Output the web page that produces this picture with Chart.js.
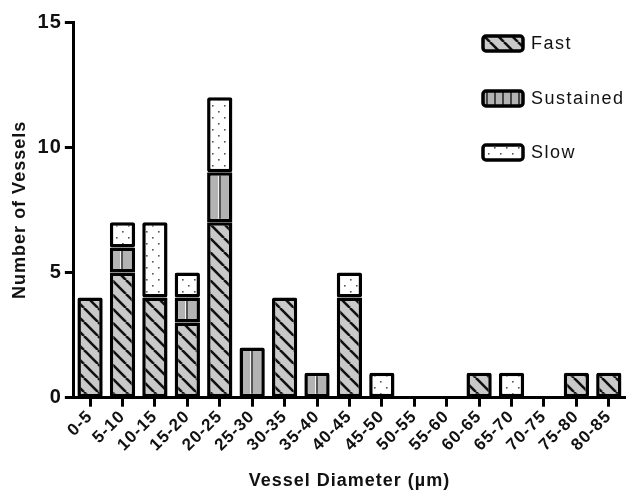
<!DOCTYPE html>
<html>
<head>
<meta charset="utf-8">
<script src="https://cdn.jsdelivr.net/npm/chart.js@4.4.0/dist/chart.umd.min.js"></script>
<style>
  html, body { margin: 0; padding: 0; background: #fff; }
  #wrap { width: 628px; height: 496px; }
</style>
</head>
<body>
<div id="wrap"><canvas id="chart" width="628" height="496"></canvas></div>
<script>
const categories = ["0-5", "5-10", "10-15", "15-20", "20-25", "25-30", "30-35", "35-40", "40-45",
  "45-50", "50-55", "55-60", "60-65", "65-70", "70-75", "75-80", "80-85"];
const fastValues      = [4, 5, 4, 3, 7, 0, 4, 0, 4, 0, 0, 0, 1, 0, 0, 1, 1];
const sustainedValues = [0, 1, 0, 1, 2, 2, 0, 1, 0, 0, 0, 0, 0, 0, 0, 0, 0];
const slowValues      = [0, 1, 3, 1, 3, 0, 0, 0, 1, 1, 0, 0, 0, 1, 0, 0, 0];
const seriesNames = ["Fast", "Sustained", "Slow"];
const yTicks = [0, 5, 10, 15];

const FONT = "'Liberation Sans', Arial, sans-serif";

function tile(w, h, draw) {
  const c = document.createElement("canvas");
  c.width = w;
  c.height = h;
  draw(c.getContext("2d"));
  return c;
}

// diagonal "\" stripes on light grey
const fastTile = tile(14, 14, (g) => {
  g.fillStyle = "#c9c9c9";
  g.fillRect(0, 0, 14, 14);
  g.strokeStyle = "#111";
  g.lineWidth = 2.6;
  [-14, 0, 14].forEach((o) => {
    g.beginPath();
    g.moveTo(o, 0);
    g.lineTo(o + 14, 14);
    g.stroke();
  });
});

// grey with a vertical line (centred per bar)
const sustainedTile = tile(40, 4, (g) => {
  g.fillStyle = "#b3b3b3";
  g.fillRect(0, 0, 40, 4);
  g.fillStyle = "#f2f2f2";
  g.fillRect(19, 0, 1, 4);
  g.fillStyle = "#555";
  g.fillRect(20, 0, 2, 4);
});

// white with sparse dots
const slowTile = tile(12, 12, (g) => {
  g.fillStyle = "#fff";
  g.fillRect(0, 0, 12, 12);
  g.fillStyle = "#555";
  g.fillRect(2, 3, 1.6, 1.6);
  g.fillRect(8, 9, 1.6, 1.6);
});

const ctx = document.querySelector("#chart").getContext("2d");
const fastPattern = ctx.createPattern(fastTile, "repeat");
const slowPattern = ctx.createPattern(slowTile, "repeat");
const legendSustained = ctx.createPattern(tile(8, 4, (g) => {
  g.fillStyle = "#b3b3b3";
  g.fillRect(0, 0, 8, 4);
  g.fillStyle = "#444";
  g.fillRect(6, 0, 2, 4);
}), "repeat");

function sustainedFill(c) {
  const chart = c.chart;
  const p = chart.ctx.createPattern(sustainedTile, "repeat");
  if (chart.scales && chart.scales.x && c.dataIndex !== undefined) {
    const x = chart.scales.x.getPixelForValue(c.dataIndex);
    p.setTransform(new DOMMatrix().translate(Math.round(x) - 21, 0));
  }
  return p;
}

// the figure's lettering is a bit spread out
const spacingPlugin = {
  id: "spacing",
  beforeLayout(chart) { chart.ctx.letterSpacing = "1px"; },
  beforeDraw(chart) { chart.ctx.letterSpacing = "1px"; },
};

const legendPlugin = {
  id: "boxLegend",
  afterDraw(chart) {
    const g = chart.ctx;
    const area = chart.chartArea;
    const fills = [fastPattern, legendSustained, slowPattern];
    const bx = area.right - 142;
    const tops = [area.top + 14, area.top + 69, area.top + 123];
    g.save();
    g.letterSpacing = "1.5px";
    seriesNames.forEach((name, i) => {
      const y = tops[i];
      g.beginPath();
      g.roundRect(bx, y, 40, 15, 3);
      g.fillStyle = fills[i];
      g.fill();
      g.lineWidth = 3.5;
      g.strokeStyle = "#000";
      g.stroke();
      g.fillStyle = "#111";
      g.font = "18px " + FONT;
      g.textBaseline = "middle";
      g.fillText(name, bx + 48, y + 8);
    });
    g.restore();
  },
};

const barStyle = {
  borderColor: "#000",
  borderWidth: 3.5,
  borderSkipped: false,
  borderRadius: 2,
  barPercentage: 0.78,
  categoryPercentage: 1.0,
};

new Chart(ctx, {
  type: "bar",
  data: {
    labels: categories,
    datasets: [
      Object.assign({ label: seriesNames[0], data: fastValues, backgroundColor: fastPattern }, barStyle),
      Object.assign({ label: seriesNames[1], data: sustainedValues, backgroundColor: sustainedFill }, barStyle),
      Object.assign({ label: seriesNames[2], data: slowValues, backgroundColor: slowPattern }, barStyle),
    ],
  },
  options: {
    responsive: false,
    animation: false,
    layout: { padding: { top: 22, right: 3, left: 9, bottom: 4 } },
    plugins: {
      legend: { display: false },
      tooltip: { enabled: false },
    },
    scales: {
      x: {
        stacked: true,
        border: { display: true, color: "#000", width: 3 },
        grid: { drawOnChartArea: false, drawTicks: true, tickLength: 9, tickWidth: 3, color: "#000", offset: false },
        ticks: {
          color: "#111",
          font: { family: FONT, size: 17, weight: "bold" },
          minRotation: 45,
          maxRotation: 45,
          autoSkip: false,
          padding: 0,
        },
        title: {
          display: true,
          text: "Vessel Diameter (\u00b5m)",
          color: "#111",
          font: { family: FONT, size: 18, weight: "bold" },
          padding: { top: 15, bottom: 0 },
        },
      },
      y: {
        stacked: true,
        min: 0,
        max: 15,
        afterBuildTicks(axis) {
          axis.ticks = yTicks.map((v) => ({ value: v }));
        },
        border: { display: true, color: "#000", width: 3 },
        grid: { drawOnChartArea: false, drawTicks: true, tickLength: 9, tickWidth: 3, color: "#000" },
        ticks: {
          color: "#111",
          font: { family: FONT, size: 20, weight: "bold" },
          padding: 3,
        },
        title: {
          display: true,
          text: "Number of Vessels",
          color: "#111",
          font: { family: FONT, size: 18, weight: "bold" },
          padding: { top: 0, bottom: 4 },
        },
      },
    },
  },
  plugins: [spacingPlugin, legendPlugin],
});
</script>
</body>
</html>
